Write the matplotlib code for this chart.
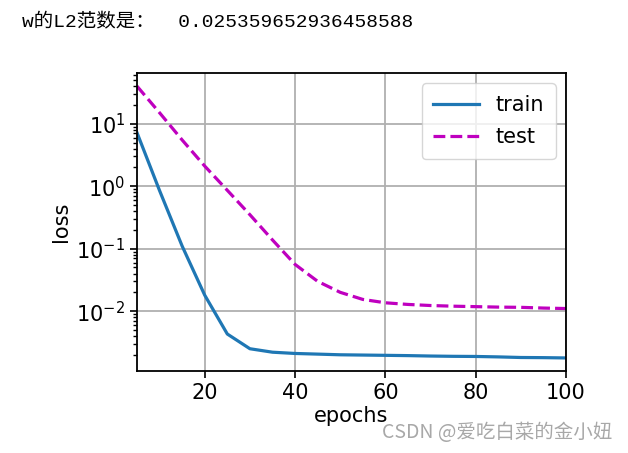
import matplotlib.pyplot as plt

# epochs recorded every 5 steps
epochs = [5, 10, 15, 20, 25, 30, 35, 40, 45, 50, 55, 60, 65, 70, 75, 80, 85, 90, 95, 100]
train_loss = [7.2, 0.85, 0.11, 0.018, 0.0043, 0.0025, 0.0022, 0.0021, 0.00205, 0.0020,
              0.00198, 0.00196, 0.00194, 0.00191, 0.00189, 0.00188, 0.00185, 0.00181, 0.0018, 0.00178]
test_loss = [40, 15, 5.5, 2.1, 0.86, 0.35, 0.138, 0.056, 0.030, 0.020,
             0.0154, 0.0136, 0.0128, 0.0123, 0.0120, 0.0118, 0.0116, 0.0115, 0.0112, 0.0110]
norm_text = 'w的L2范数是：  0.025359652936458588'
watermark = 'CSDN @爱吃白菜的金小妞'

fs = 15
fig = plt.figure(figsize=(6.28, 4.53), dpi=100)
ax = fig.add_axes([137/628, 1-371/453, (566-137)/628, (371-73)/453])

ax.plot(epochs, train_loss, '-', color='#1f77b4', lw=2.3, label='train')
ax.plot(epochs, test_loss, 'm--', lw=2.3, label='test')
ax.set_yscale('log')
ax.set_xlim(5, 100)
ax.set_ylim(0.0011, 65)
ax.set_xticks([20, 40, 60, 80, 100])
ax.grid(True, color='#b0b0b0', lw=1.3)
ax.tick_params(labelsize=fs, length=5, width=1.2)
ax.tick_params(which='minor', length=3, width=1)
for s in ax.spines.values():
    s.set_linewidth(1.3)
ax.set_xlabel('epochs', fontsize=fs, labelpad=2)
ax.set_ylabel('loss', fontsize=fs)
ax.legend(loc='upper right', fontsize=fs, handlelength=2.2, labelspacing=0.6,
          borderpad=0.55, handletextpad=0.8)

# printed output above the plot
fig.text(22/628, 1-22/453, norm_text, fontsize=14, va='center',
         family=['Liberation Mono', 'Noto Sans CJK SC'])
fig.text(612/628, 1-432/453, watermark, fontsize=14, va='center', ha='right',
         color='#a8a8a8', family=['Noto Sans CJK SC', 'DejaVu Sans'])

fig.savefig('out.png', dpi=100)
